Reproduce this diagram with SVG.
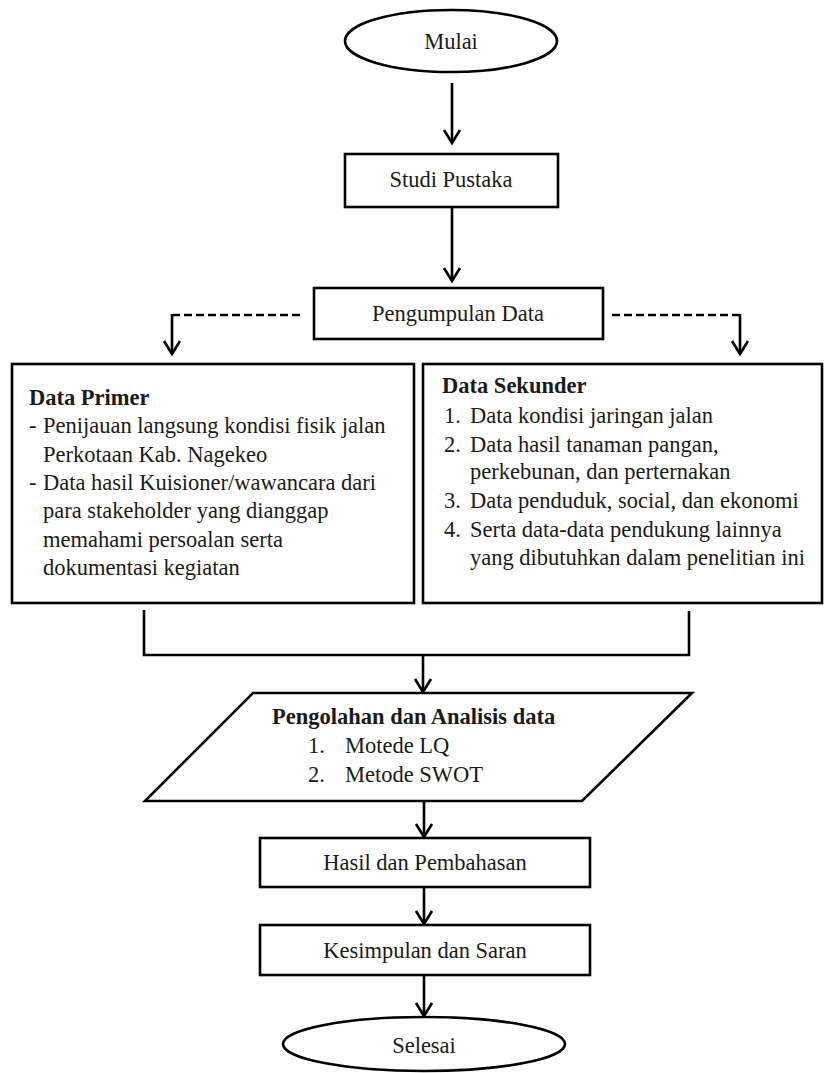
<svg xmlns="http://www.w3.org/2000/svg" width="824" height="1073" viewBox="0 0 824 1073">
<style>
.s{fill:#fff;stroke:#000;stroke-width:2.6}
.t{font-family:"Liberation Serif","Times New Roman",serif;font-size:22.5px;fill:#1a1a1a}
.c{text-anchor:middle}
.b{font-weight:bold}
.ln{fill:none;stroke:#000;stroke-width:2.6}
.d{fill:none;stroke:#000;stroke-width:2.6;stroke-dasharray:8 4}
.ah{fill:none;stroke:#000;stroke-width:2.6}
</style>
<rect width="824" height="1073" fill="#fff"/>
<g id="connectors">
<line class="ln" x1="452" y1="83" x2="452" y2="142"/>
<line class="ln" x1="452" y1="208" x2="452" y2="280"/>
<line class="d" x1="300" y1="315" x2="173" y2="315"/>
<polyline class="ln" points="172,314 172,354"/>
<line class="d" x1="612" y1="315" x2="740" y2="315"/>
<polyline class="ln" points="740,314 740,354"/>
<polyline class="ln" points="144,610 144,655 689,655 689,611"/>
<line class="ln" x1="423" y1="655" x2="423" y2="691"/>
<line class="ln" x1="424" y1="802" x2="424" y2="836"/>
<line class="ln" x1="424" y1="888" x2="424" y2="923"/>
<line class="ln" x1="424" y1="976" x2="424" y2="1015"/>
<path class="ah" d="M444,130 L452,143 L460,130 M444,268 L452,281 L460,268 M164,341 L172,354 L180,341 M732,341 L740,354 L748,341 M415,679 L423,692 L431,679 M416,824 L424,837 L432,824 M416,911 L424,924 L432,911 M416,1003 L424,1016 L432,1003"/>
</g>
<g id="mulai">
<ellipse class="s" cx="451" cy="41" rx="106" ry="31"/>
<text class="t c" x="451" y="49">Mulai</text>
</g>
<g id="studi">
<rect class="s" x="345" y="154" width="213" height="53"/>
<text class="t c" x="451" y="187">Studi Pustaka</text>
</g>
<g id="pengumpulan">
<rect class="s" x="314" y="288" width="289" height="51"/>
<text class="t c" x="458" y="321">Pengumpulan Data</text>
</g>
<g id="primer">
<rect class="s" x="12" y="364" width="402" height="239"/>
<text class="t b" x="29" y="405">Data Primer</text>
<text class="t" x="29" y="433">-</text>
<text class="t" x="43" y="433">Penijauan langsung kondisi fisik jalan</text>
<text class="t" x="43" y="462">Perkotaan Kab. Nagekeo</text>
<text class="t" x="29" y="490">-</text>
<text class="t" x="43" y="490">Data hasil Kuisioner/wawancara dari</text>
<text class="t" x="43" y="518">para stakeholder yang dianggap</text>
<text class="t" x="43" y="547">memahami persoalan serta</text>
<text class="t" x="43" y="575">dokumentasi kegiatan</text>
</g>
<g id="sekunder">
<rect class="s" x="423" y="364" width="399" height="239"/>
<text class="t b" x="442" y="393">Data Sekunder</text>
<text class="t" x="444" y="423">1.</text>
<text class="t" x="470" y="423">Data kondisi jaringan jalan</text>
<text class="t" x="444" y="452">2.</text>
<text class="t" x="470" y="452">Data hasil tanaman pangan,</text>
<text class="t" x="470" y="479">perkebunan, dan perternakan</text>
<text class="t" x="444" y="508">3.</text>
<text class="t" x="470" y="508">Data penduduk, social, dan ekonomi</text>
<text class="t" x="444" y="537">4.</text>
<text class="t" x="470" y="537">Serta data-data pendukung lainnya</text>
<text class="t" x="470" y="565">yang dibutuhkan dalam penelitian ini</text>
</g>
<g id="analisis">
<polygon class="s" points="253,693 692,693 582,801 145,801"/>
<text class="t b" x="272" y="724">Pengolahan dan Analisis data</text>
<text class="t" x="308" y="753">1.</text>
<text class="t" x="345" y="753">Motede LQ</text>
<text class="t" x="308" y="782">2.</text>
<text class="t" x="345" y="782">Metode SWOT</text>
</g>
<g id="hasil">
<rect class="s" x="260" y="838" width="330" height="49"/>
<text class="t c" x="425" y="870">Hasil dan Pembahasan</text>
</g>
<g id="kesimpulan">
<rect class="s" x="260" y="925" width="330" height="50"/>
<text class="t c" x="425" y="958">Kesimpulan dan Saran</text>
</g>
<g id="selesai">
<ellipse class="s" cx="424" cy="1044" rx="141" ry="27"/>
<text class="t c" x="424" y="1053">Selesai</text>
</g>
</svg>
